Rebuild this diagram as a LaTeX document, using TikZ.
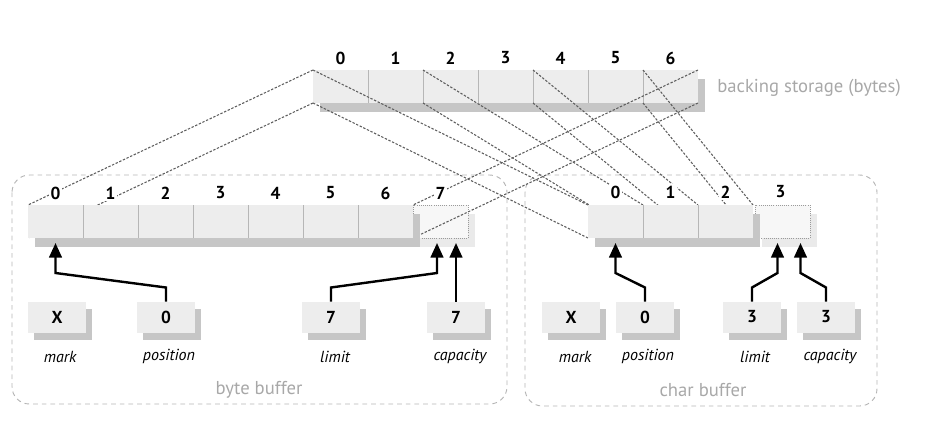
\documentclass[tikz,border=0pt]{standalone}
\usepackage{fontspec}
\setmainfont{PT Sans}
\usetikzlibrary{arrows.meta,calc,shadows}
\definecolor{cellfill}{HTML}{EDEDED}
\definecolor{cellshadow}{HTML}{C6C6C6}
\definecolor{ghostfill}{HTML}{F7F7F7}
\definecolor{ghostshadow}{HTML}{EAEAEA}
\definecolor{ghostline}{HTML}{9A9A9A}
\definecolor{divline}{HTML}{B6B6B6}
\definecolor{maplinecol}{HTML}{5E5E5E}
\definecolor{framecol}{HTML}{B4B4B4}
\definecolor{captioncol}{HTML}{A8A8A8}
\pgfdeclarelayer{back}
\pgfdeclarelayer{lines}
\pgfsetlayers{back,lines,main}
\begin{document}
\begin{tikzpicture}[x=0.75pt,y=-0.75pt,
  cell/.style={rectangle, fill=cellfill, minimum width=41.25pt, minimum height=24.75pt,
    inner sep=0pt, outer sep=0pt,
    drop shadow={shadow xshift=5.25pt, shadow yshift=-6.75pt, fill=cellshadow, opacity=1}},
  ghost/.style={rectangle, fill=ghostfill, draw=ghostline, densely dotted, line width=0.6pt,
    minimum width=41.25pt, minimum height=24.75pt, inner sep=0pt, outer sep=0pt,
    drop shadow={shadow xshift=5.25pt, shadow yshift=-6.75pt, fill=ghostshadow, opacity=1}},
  sbox/.style={rectangle, fill=cellfill, minimum width=43.5pt, minimum height=23.25pt,
    inner sep=0pt, outer sep=0pt, font=\bfseries\fontsize{13}{14}\selectfont,
    drop shadow={shadow xshift=4.5pt, shadow yshift=-5.25pt, fill=cellshadow, opacity=1}},
  idx/.style={fill=white, inner sep=1.5pt, font=\bfseries\fontsize{13}{14}\selectfont},
  field/.style={inner sep=0pt, font=\itshape\fontsize{12}{13}\selectfont},
  caption/.style={inner sep=0pt, text=captioncol, font=\fontsize{14}{15}\selectfont},
  frame/.style={draw=framecol, dash pattern=on 3.5pt off 3pt, line width=0.7pt, rounded corners=13pt},
  mapline/.style={draw=maplinecol, dash pattern=on 1.8pt off 1.2pt, line width=0.8pt},
  divider/.style={draw=divline, line width=0.7pt},
  ptr/.style={draw=black, line width=1.8pt, line join=miter, -{Triangle[length=11pt,width=9.5pt]}}
]
\useasboundingbox (0,0) rectangle (936,433);

% ---------- background layer: frames, backing storage, phantom cells
\begin{pgfonlayer}{back}
  \draw[frame] (12,175) rectangle (507,404);
  \draw[frame] (525,175) rectangle (877,406);
  \foreach \i in {0,...,6} \node[cell] (bs\i) at (340.5+55*\i, 86.5) {};
  \foreach \i in {0,...,5} \draw[divider] (bs\i.north east) -- (bs\i.south east);
  \node[ghost] (bc7) at (440.5, 221.5) {};
  \node[ghost] (cc3) at (782.5, 221.5) {};
\end{pgfonlayer}

% ---------- buffer cells
\foreach \i in {0,...,6} \node[cell] (bc\i) at (55.5+55*\i, 221.5) {};
\foreach \i in {0,...,5} \draw[divider] (bc\i.north east) -- (bc\i.south east);
\foreach \i in {0,...,2} \node[cell] (cc\i) at (615.5+55*\i, 221.5) {};
\foreach \i in {0,...,1} \draw[divider] (cc\i.north east) -- (cc\i.south east);

% ---------- mapping lines
\begin{pgfonlayer}{lines}
  \draw[mapline] (bs0.north west) -- (bc0.north west);
  \draw[mapline] (bs0.south west) -- (bc0.south west);
  \draw[mapline] (bs6.north east) -- (bc6.north east);
  \draw[mapline] (bs6.south east) -- (bc6.south east);
  \draw[mapline] (bs0.north west) -- (cc0.north west);
  \draw[mapline] (bs0.south west) -- (cc0.south west);
  \draw[mapline] (bs2.north west) -- (cc1.north west);
  \draw[mapline] (bs2.south west) -- (cc1.south west);
  \draw[mapline] (bs4.north west) -- (cc2.north west);
  \draw[mapline] (bs4.south west) -- (cc2.south west);
  \draw[mapline] (bs6.north west) -- (cc2.north east);
  \draw[mapline] (bs6.south west) -- (cc2.south east);
\end{pgfonlayer}

% ---------- index labels
\foreach \i in {0,...,6} \node[idx] (bsl\i) at (340.5+55*\i, 58) {\i};
\foreach \i in {0,...,7} \node[idx] (bcl\i) at (55.5+55*\i, 193) {\i};
\foreach \i in {0,...,3} \node[idx] (ccl\i) at (615.5+55*\i, 192) {\i};

% ---------- field boxes (byte buffer)
\node[sbox] (bmark) at (57,317) {X};
\node[sbox] (bpos) at (166,317) {0};
\node[sbox] (blim) at (331,317) {7};
\node[sbox] (bcap) at (456,317) {7};
\node[field] (bmarkt) at ($(bmark.south)+(3,24)$) {mark};
\node[field] (bpost) at ($(bpos.south)+(3,24)$) {position};
\node[field] (blimt) at ($(blim.south)+(4,24)$) {limit};
\node[field] (bcapt) at ($(bcap.south)+(4,24)$) {capacity};

% ---------- field boxes (char buffer)
\node[sbox] (cmark) at (571,317) {X};
\node[sbox] (cpos) at (645,317) {0};
\node[sbox] (clim) at (752,317) {3};
\node[sbox] (ccap) at (826,317) {3};
\node[field] (cmarkt) at ($(cmark.south)+(4,24)$) {mark};
\node[field] (cpost) at ($(cpos.south)+(3,24)$) {position};
\node[field] (climt) at ($(clim.south)+(3,24)$) {limit};
\node[field] (ccapt) at ($(ccap.south)+(4,24)$) {capacity};

% ---------- pointers
\coordinate (tipB) at ($(bc7.south)+(15,5)$);
\draw[ptr] (bpos.north) -- ++(0,-14) -- ($(bc0.south)+(0,35)$) -- ($(bc0.south)+(0,5)$);
\draw[ptr] (blim.north) -- ++(0,-14) -- ($(bc7.south)+(-3.5,35)$) -- ($(bc7.south)+(-3.5,5)$);
\draw[ptr] (bcap.north) -- (bcap.north |- tipB);
\draw[ptr] (cpos.north) -- ++(0,-14) -- ($(cc0.south)+(0,35)$) -- ($(cc0.south)+(0,5)$);
\draw[ptr] (clim.north) -- ++(0,-14) -- ($(cc3.south)+(-5,35)$) -- ($(cc3.south)+(-5,5)$);
\draw[ptr] (ccap.north) -- ++(0,-14) -- ($(cc3.south)+(18,35)$) -- ($(cc3.south)+(18,5)$);

% ---------- captions
\node[caption, anchor=west] (bscap) at (717,88) {backing storage (bytes)};
\node[caption] (bbcap) at (259,390) {byte buffer};
\node[caption] (cbcap) at (703,390) {char buffer};
\end{tikzpicture}
\end{document}
